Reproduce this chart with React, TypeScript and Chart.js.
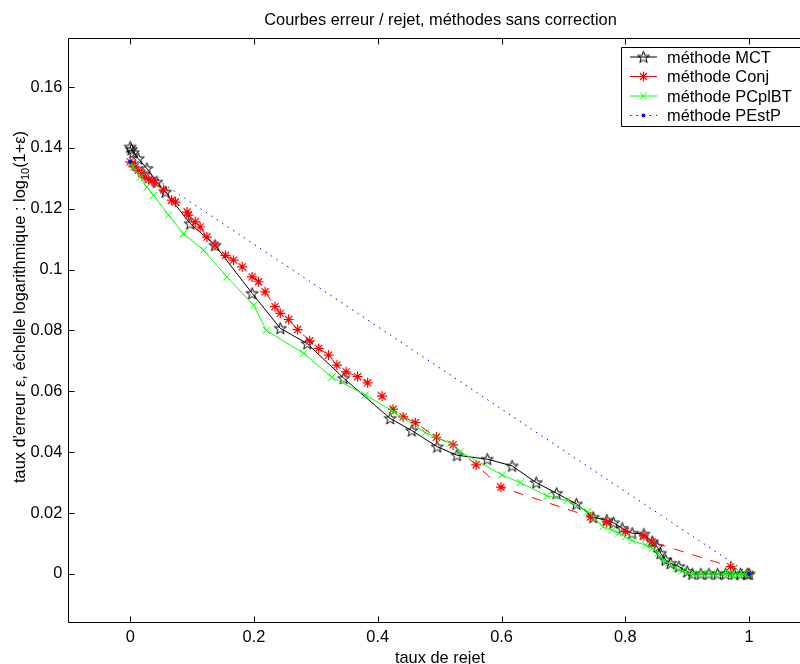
import React, { useEffect, useRef } from "react";
import { Chart, registerables } from "chart.js";

Chart.register(...registerables);

const titleText = "Courbes erreur / rejet, méthodes sans correction";
const xAxisLabel = "taux de rejet";
const yLabelMain = "taux d'erreur ε, échelle logarithmique : log";
const yLabelSub = "10";
const yLabelEnd = "(1+ε)";
const seriesNames = ["méthode MCT", "méthode Conj", "méthode PCplBT", "méthode PEstP"];

const xTicks = [0, 0.2, 0.4, 0.6, 0.8, 1];
const xTickLabels = ["0", "0.2", "0.4", "0.6", "0.8", "1"];
const yTicks = [0, 0.02, 0.04, 0.06, 0.08, 0.1, 0.12, 0.14, 0.16];
const yTickLabels = ["0", "0.02", "0.04", "0.06", "0.08", "0.1", "0.12", "0.14", "0.16"];

const mctX = [0, 0.002, 0.005, 0.013, 0.027, 0.043, 0.057, 0.097, 0.137, 0.197, 0.2425, 0.286, 0.345, 0.42, 0.455, 0.496, 0.528, 0.577, 0.617, 0.656, 0.689, 0.721, 0.748, 0.77, 0.781, 0.795, 0.811, 0.83, 0.8435, 0.8515, 0.857, 0.865, 0.873, 0.8865, 0.9, 0.908, 0.922, 0.935, 0.949, 0.962, 0.976, 0.986, 0.997, 1.0];
const mctY = [0.1403, 0.1395, 0.1385, 0.1365, 0.1332, 0.1288, 0.1255, 0.1151, 0.108, 0.0922, 0.0807, 0.0757, 0.0643, 0.0511, 0.0471, 0.0418, 0.039, 0.0377, 0.0355, 0.03, 0.0265, 0.023, 0.0186, 0.0177, 0.0168, 0.015, 0.0134, 0.0131, 0.0106, 0.009, 0.0068, 0.0046, 0.0035, 0.0024, 0.0008, 0, 0, 0, 0, 0, 0, 0, 0, 0];

const conjX = [0, 0.003, 0.008, 0.013, 0.019, 0.024, 0.03, 0.035, 0.04, 0.054, 0.067, 0.073, 0.092, 0.094, 0.105, 0.113, 0.124, 0.137, 0.154, 0.167, 0.181, 0.197, 0.2075, 0.218, 0.234, 0.2425, 0.256, 0.2705, 0.29, 0.3045, 0.3206, 0.334, 0.349, 0.3675, 0.3837, 0.407, 0.4247, 0.441, 0.4608, 0.4947, 0.5217, 0.559, 0.599, 0.744, 0.77, 0.8, 0.83, 0.843, 0.97, 1.0];
const conjY = [0.1354, 0.1348, 0.1337, 0.1326, 0.1315, 0.1304, 0.1296, 0.1294, 0.1285, 0.1261, 0.1228, 0.1222, 0.1189, 0.1179, 0.1157, 0.114, 0.1107, 0.108, 0.1047, 0.1031, 0.1009, 0.0976, 0.096, 0.0927, 0.0878, 0.0856, 0.0836, 0.0803, 0.0766, 0.0741, 0.0719, 0.0686, 0.0664, 0.0648, 0.0628, 0.0584, 0.0541, 0.0516, 0.0497, 0.0449, 0.0424, 0.0358, 0.0285, 0.0187, 0.017, 0.014, 0.0125, 0.0105, 0.0024, 0];

const pcX = [0, 0.005, 0.016, 0.027, 0.0377, 0.062, 0.086, 0.1186, 0.156, 0.1994, 0.22, 0.2802, 0.326, 0.38, 0.4257, 0.477, 0.5174, 0.5335, 0.601, 0.6306, 0.6737, 0.706, 0.7394, 0.764, 0.779, 0.789, 0.8, 0.811, 0.8327, 0.8435, 0.853, 0.862, 0.87, 0.881, 0.892, 0.9027, 0.91, 0.918, 0.926, 0.934, 0.942, 0.95, 0.958, 0.966, 0.972, 0.978, 0.984, 0.99, 0.995, 1.0];
const pcY = [0.1354, 0.1337, 0.1304, 0.1271, 0.1244, 0.1179, 0.1118, 0.1064, 0.0976, 0.0883, 0.08, 0.0725, 0.0646, 0.0588, 0.0533, 0.0464, 0.0429, 0.0401, 0.0325, 0.03, 0.0256, 0.0241, 0.0205, 0.0155, 0.0144, 0.0134, 0.0122, 0.0109, 0.0095, 0.0084, 0.0068, 0.0046, 0.0035, 0.0019, 0.001, 0.0002, 0, 0, 0, 0, 0, 0, 0, 0, 0, 0, 0, 0, 0, 0];

const pestX = [0, 1.0];
const pestY = [0.1354, 0];

const FONT = "'Liberation Sans', Arial, Helvetica, sans-serif";
const FS = 16.4;
const PLOT_RIGHT = 811;

function toPoints(xs: number[], ys: number[]) {
  return xs.map((x, i) => ({ x, y: ys[i] }));
}

function makePentagram(): HTMLCanvasElement {
  const c = document.createElement("canvas");
  c.width = 15;
  c.height = 15;
  const ctx = c.getContext("2d")!;
  ctx.strokeStyle = "#000";
  ctx.lineWidth = 1;
  ctx.beginPath();
  const R = 6.3;
  const r = R * 0.4;
  for (let i = 0; i < 10; i++) {
    const a = -Math.PI / 2 + (i * Math.PI) / 5;
    const rad = i % 2 === 0 ? R : r;
    const px = 7.5 + rad * Math.cos(a);
    const py = 8 + rad * Math.sin(a);
    if (i === 0) ctx.moveTo(px, py);
    else ctx.lineTo(px, py);
  }
  ctx.closePath();
  ctx.stroke();
  return c;
}

function labelFor(list: number[], labels: string[], v: number) {
  const i = list.findIndex((t) => Math.abs(t - v) < 1e-9);
  return i >= 0 ? labels[i] : "";
}

export default function App() {
  const ref = useRef<HTMLCanvasElement | null>(null);

  useEffect(() => {
    const canvas = ref.current;
    if (!canvas) return;
    const pent = makePentagram();

    const drawMarker = (ctx: CanvasRenderingContext2D, kind: number, x: number, y: number) => {
      ctx.save();
      ctx.setLineDash([]);
      ctx.lineWidth = 1;
      if (kind === 0) {
        ctx.drawImage(pent, x - 7.5, y - 7.5);
      } else if (kind === 1) {
        ctx.strokeStyle = "#ff0000";
        ctx.lineWidth = 1.2;
        ctx.beginPath();
        const r = 5;
        const d = r * Math.SQRT1_2;
        ctx.moveTo(x - r, y); ctx.lineTo(x + r, y);
        ctx.moveTo(x, y - r); ctx.lineTo(x, y + r);
        ctx.moveTo(x - d, y - d); ctx.lineTo(x + d, y + d);
        ctx.moveTo(x - d, y + d); ctx.lineTo(x + d, y - d);
        ctx.stroke();
      } else if (kind === 2) {
        ctx.strokeStyle = "#00ff00";
        ctx.beginPath();
        const d = 5 * Math.SQRT1_2;
        ctx.moveTo(x - d, y - d); ctx.lineTo(x + d, y + d);
        ctx.moveTo(x - d, y + d); ctx.lineTo(x + d, y - d);
        ctx.stroke();
      } else {
        ctx.fillStyle = "#0000ff";
        ctx.beginPath();
        ctx.arc(x, y, 2, 0, Math.PI * 2);
        ctx.fill();
      }
      ctx.restore();
    };

    // the reference is cropped at the right: the plot box runs past the canvas edge
    const widenPlugin = {
      id: "widenArea",
      afterLayout(chart: any) {
        const area = chart.chartArea;
        area.right = PLOT_RIGHT;
        area.width = PLOT_RIGHT - area.left;
        const xs = chart.scales.x;
        xs.right = PLOT_RIGHT;
        xs.width = PLOT_RIGHT - xs.left;
        xs.configure();
      },
    };

    const framePlugin = {
      id: "matlabFrame",
      afterDraw(chart: any) {
        const ctx: CanvasRenderingContext2D = chart.ctx;
        const { left, top, bottom } = chart.chartArea;
        const xs = chart.scales.x;
        const ys = chart.scales.y;
        const W = chart.width;
        ctx.save();
        ctx.strokeStyle = "#000";
        ctx.lineWidth = 1;
        ctx.setLineDash([]);
        const L = Math.floor(left) + 0.5;
        const T = Math.floor(top) + 0.5;
        const B = Math.floor(bottom) + 0.5;
        ctx.beginPath();
        ctx.moveTo(L, T); ctx.lineTo(W, T);
        ctx.moveTo(L, B); ctx.lineTo(W, B);
        ctx.moveTo(L, T); ctx.lineTo(L, B);
        xTicks.forEach((v) => {
          const p = Math.round(xs.getPixelForValue(v)) + 0.5;
          ctx.moveTo(p, B); ctx.lineTo(p, B - 6);
          ctx.moveTo(p, T); ctx.lineTo(p, T + 6);
        });
        yTicks.forEach((v) => {
          const p = Math.round(ys.getPixelForValue(v)) + 0.5;
          ctx.moveTo(L, p); ctx.lineTo(L + 6, p);
        });
        ctx.stroke();

        ctx.fillStyle = "#000";
        ctx.font = `${FS}px ${FONT}`;
        ctx.textAlign = "center";
        ctx.textBaseline = "alphabetic";
        ctx.fillText(titleText, 440.5, 25);
        ctx.fillText(xAxisLabel, 440, 663);

        // y label (rotated)
        ctx.save();
        ctx.translate(25, 483);
        ctx.rotate(-Math.PI / 2);
        ctx.textAlign = "left";
        ctx.font = `${FS}px ${FONT}`;
        ctx.fillText(yLabelMain, 0, 0);
        let w = ctx.measureText(yLabelMain).width;
        ctx.font = `11px ${FONT}`;
        ctx.fillText(yLabelSub, w, 4);
        w += ctx.measureText(yLabelSub).width;
        ctx.font = `${FS}px ${FONT}`;
        ctx.fillText(yLabelEnd, w, 0);
        ctx.restore();

        // legend (its right side is past the canvas edge, as in the reference)
        const bx = 621.5, by = 47.5, bh = 79;
        ctx.fillStyle = "#fff";
        ctx.fillRect(bx, by, W - bx, bh);
        ctx.strokeStyle = "#000";
        ctx.beginPath();
        ctx.moveTo(W, by); ctx.lineTo(bx, by); ctx.lineTo(bx, by + bh); ctx.lineTo(W, by + bh);
        ctx.stroke();
        const dashes = [[], [10, 9], [], [1.5, 5]];
        const colors = ["#000000", "#ff0000", "#00ff00", "#0000ff"];
        seriesNames.forEach((name, i) => {
          const cy = 57 + i * 19.5;
          ctx.save();
          ctx.strokeStyle = colors[i];
          ctx.lineWidth = 1;
          ctx.setLineDash(dashes[i]);
          ctx.beginPath();
          ctx.moveTo(630, cy);
          ctx.lineTo(657, cy);
          ctx.stroke();
          ctx.restore();
          drawMarker(ctx, i, 643.5, cy);
          ctx.fillStyle = "#000";
          ctx.font = `${FS}px ${FONT}`;
          ctx.textAlign = "left";
          ctx.textBaseline = "middle";
          ctx.fillText(name, 667, cy + 1);
        });
        ctx.restore();
      },
    };

    const chart = new Chart(canvas, {
      type: "line",
      data: {
        datasets: [
          {
            label: seriesNames[0],
            data: toPoints(mctX, mctY),
            borderColor: "#000000",
            backgroundColor: "transparent",
            borderWidth: 1,
            pointStyle: pent as any,
            pointRadius: 6,
            tension: 0,
            order: 4,
          },
          {
            label: seriesNames[1],
            data: toPoints(conjX, conjY),
            borderColor: "#ff0000",
            backgroundColor: "transparent",
            borderWidth: 1,
            borderDash: [10, 9],
            pointStyle: "star",
            pointRadius: 5,
            pointBorderColor: "#ff0000",
            pointBorderWidth: 1.2,
            tension: 0,
            order: 3,
          },
          {
            label: seriesNames[2],
            data: toPoints(pcX, pcY),
            borderColor: "#00ff00",
            backgroundColor: "transparent",
            borderWidth: 1,
            pointStyle: "crossRot",
            pointRadius: 5,
            pointBorderColor: "#00ff00",
            pointBorderWidth: 1,
            tension: 0,
            order: 2,
          },
          {
            label: seriesNames[3],
            data: toPoints(pestX, pestY),
            borderColor: "#0000ff",
            backgroundColor: "#0000ff",
            borderWidth: 1,
            borderDash: [1.5, 5],
            pointStyle: "circle",
            pointRadius: 2,
            pointBorderWidth: 0,
            pointBackgroundColor: "#0000ff",
            tension: 0,
            order: 1,
          },
        ],
      },
      options: {
        responsive: false,
        animation: false,
        layout: { padding: { top: 38.3, right: 0, left: 0, bottom: 0 } },
        plugins: {
          legend: { display: false },
          title: { display: false },
          tooltip: { enabled: false },
        },
        scales: {
          x: {
            type: "linear",
            min: -0.1,
            max: 1.1,
            afterBuildTicks: (s: any) => {
              s.ticks = xTicks.map((v) => ({ value: v }));
            },
            afterFit: (s: any) => {
              s.height = 42;
            },
            grid: { display: false, drawTicks: false },
            border: { display: false },
            ticks: {
              padding: 6,
              color: "#000",
              font: { family: FONT, size: FS },
              maxRotation: 0,
              autoSkip: false,
              callback: (v: any) => labelFor(xTicks, xTickLabels, Number(v)),
            },
          },
          y: {
            type: "linear",
            min: -0.0158,
            max: 0.176,
            afterBuildTicks: (s: any) => {
              s.ticks = yTicks.map((v) => ({ value: v }));
            },
            afterFit: (s: any) => {
              s.width = 68.3;
            },
            grid: { display: false, drawTicks: false },
            border: { display: false },
            ticks: {
              padding: 6,
              color: "#000",
              font: { family: FONT, size: FS },
              autoSkip: false,
              callback: (v: any) => labelFor(yTicks, yTickLabels, Number(v)),
            },
          },
        },
      },
      plugins: [widenPlugin, framePlugin],
    } as any);

    return () => chart.destroy();
  }, []);

  return (
    <div
      style={{
        position: "fixed",
        left: 0,
        top: 0,
        width: 800,
        height: 664,
        overflow: "hidden",
        background: "#fff",
      }}
    >
      <canvas ref={ref} width={800} height={664} style={{ display: "block" }} />
    </div>
  );
}
